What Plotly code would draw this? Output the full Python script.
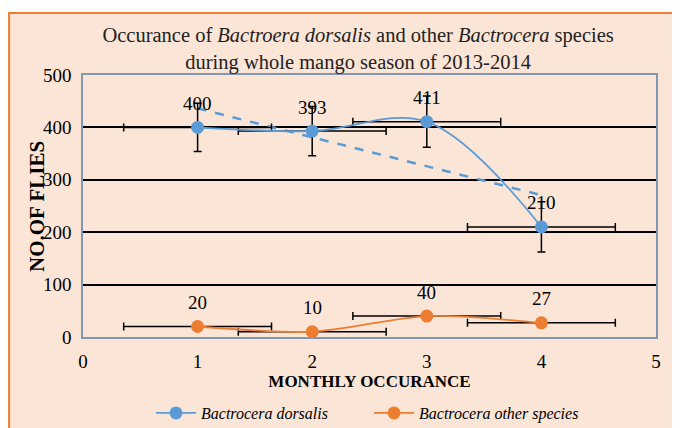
import numpy as np
import plotly.graph_objects as go

months = [1, 2, 3, 4]
dorsalis = [400, 393, 411, 210]
others = [20, 10, 40, 27]
dorsalis_err_y = [46, 47, 49, 48]
x_err = [0.645, 0.645, 0.645, 0.645]
x_ticks = [0, 1, 2, 3, 4, 5]
y_ticks = [0, 100, 200, 300, 400, 500]

BLUE = "#5B9BD5"
ORANGE = "#ED7D31"
SERIF = "Liberation Serif, Times New Roman, serif"

slope, intercept = np.polyfit(months, dorsalis, 1)
trend_x = [months[0], months[-1]]
trend_y = [slope * v + intercept for v in trend_x]

fig = go.Figure()

fig.add_trace(go.Scatter(
    x=trend_x, y=trend_y, mode="lines", showlegend=False, hoverinfo="skip",
    line=dict(color=BLUE, width=2.5, dash="dash")))

fig.add_trace(go.Scatter(
    x=months, y=dorsalis, mode="lines+markers", name="<i>Bactrocera dorsalis</i>",
    line=dict(color=BLUE, width=1.8, shape="spline", smoothing=1.0),
    marker=dict(color=BLUE, size=13),
    error_y=dict(type="data", array=dorsalis_err_y, color="black", thickness=1.5, width=4),
    error_x=dict(type="data", array=x_err, color="black", thickness=1.5, width=4)))

fig.add_trace(go.Scatter(
    x=months, y=others, mode="lines+markers", name="<i>Bactrocera other species</i>",
    line=dict(color=ORANGE, width=1.8, shape="spline", smoothing=0.8),
    marker=dict(color=ORANGE, size=13),
    error_x=dict(type="data", array=x_err, color="black", thickness=1.5, width=4)))

for xs, ys in ((months, dorsalis), (months, others)):
    for xv, yv in zip(xs, ys):
        fig.add_annotation(x=xv, y=yv, text=str(yv), showarrow=False, yshift=24,
                           font=dict(family=SERIF, size=19, color="black"))

# y-axis title (overlaps tick labels as in the original)
fig.add_annotation(xref="paper", yref="paper", x=-0.0803, y=0.5, text="<b>NO.OF FLIES</b>",
                   textangle=-90, showarrow=False, xanchor="center", yanchor="middle",
                   font=dict(family=SERIF, size=21, color="black"))

# outer frame
fig.add_shape(type="rect", xref="paper", yref="paper", layer="below",
              x0=-0.129, y0=-0.6, x1=1.3, y1=1.2366,
              fillcolor="#FBE5D6", line=dict(color=ORANGE, width=2))

fig.update_layout(
    width=672, height=420,
    margin=dict(l=75, r=24, t=67, b=91, autoexpand=False),
    paper_bgcolor="white", plot_bgcolor="#F8CBAD",
    title=dict(text="Occurance of <i>Bactroera dorsalis</i> and other <i>Bactrocera</i> species<br>during whole mango season of 2013-2014",
               x=0.521, xanchor="center", y=0.918, yanchor="middle",
               font=dict(family=SERIF, size=20.5, color="#222")),
    font=dict(family=SERIF, color="black"),
    legend=dict(orientation="h", x=0.1187, xanchor="left", y=-0.29, yanchor="middle",
                font=dict(family=SERIF, size=16, color="black"), bgcolor="rgba(0,0,0,0)",
                entrywidth=163, entrywidthmode="pixels", itemwidth=40),
    showlegend=True,
)

fig.update_xaxes(range=[0, 5], tickvals=x_ticks, ticktext=[str(v) for v in x_ticks],
                 showgrid=False, zeroline=False, showline=True, mirror=True,
                 linecolor="#8497B0", linewidth=1.5, automargin=False,
                 tickfont=dict(family=SERIF, size=19, color="black"), ticklabelstandoff=6,
                 title=dict(text="<b>MONTHLY OCCURANCE</b>", standoff=2,
                            font=dict(family=SERIF, size=17, color="black")))
fig.update_yaxes(range=[0, 500], tickvals=y_ticks, ticktext=[str(v) for v in y_ticks],
                 showgrid=True, gridcolor="black", gridwidth=1.5, zeroline=False,
                 showline=True, mirror=True, linecolor="#8497B0", linewidth=1.5,
                 automargin=False,
                 tickfont=dict(family=SERIF, size=19, color="black"), ticklabelstandoff=6)

fig.write_html("out.html")
